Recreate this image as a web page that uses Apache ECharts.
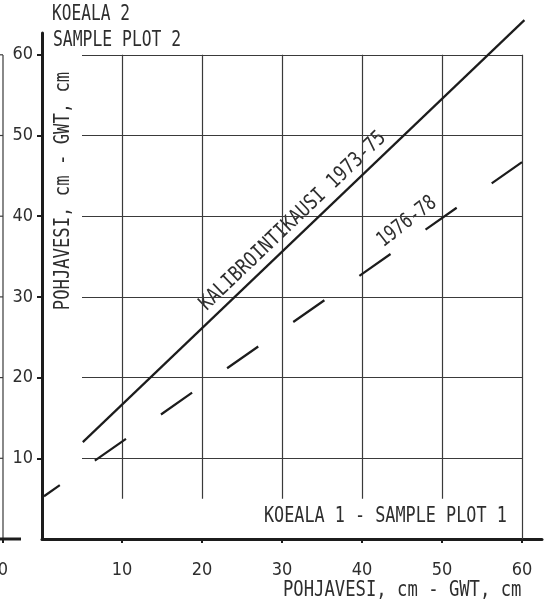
<!DOCTYPE html>
<html><head><meta charset="utf-8">
<script src="https://cdn.jsdelivr.net/npm/echarts@6/dist/echarts.min.js"></script>
<style>html,body{margin:0;padding:0;background:#fff}#c{width:548px;height:615px}</style>
</head><body><div id="c"></div>
<script>
// ---- data ----
const xTicks = [10, 20, 30, 40, 50, 60];
const yTicks = [10, 20, 30, 40, 50, 60];
const gridStart = 5;
const calibX = [5.1, 60.3];      // KALIBROINTIKAUSI 1973-75
const calibY = [12.0, 64.3];
const laterX = [0.25, 60.0];     // 1976-78
const laterY = [5.3, 46.7];
const xTitle = 'POHJAVESI, cm - GWT, cm';
const yTitle = 'POHJAVESI, cm - GWT, cm';
const calibLabel = 'KALIBROINTIKAUSI 1973-75';
const laterLabel = '1976-78';

const chart = echarts.init(document.getElementById('c'), null, {renderer: 'canvas'});
const ink = '#1c1c1c';
const txt = '#2e2e2e';
const mono = '"DejaVu Sans Mono", monospace';
const numFont = '"DejaVu Sans Condensed", "DejaVu Sans", sans-serif';

const gridSegs = [];
yTicks.forEach(t => gridSegs.push({coords: [[gridStart, t], [60, t]]}));
xTicks.forEach(t => gridSegs.push({coords: [[t, t === 60 ? 0 : gridStart], [t, 60]]}));

function T(text, x, y, rot, sx, align) {
  return {
    type: 'text', x: x, y: y, rotation: (rot || 0) * Math.PI / 180, scaleX: sx,
    style: {text: text, font: '21px ' + mono, fill: txt, align: align || 'center', verticalAlign: 'middle'}
  };
}

chart.setOption({
  animation: false,
  backgroundColor: '#fff',
  grid: {left: 42, right: 6, top: 33, bottom: 76},
  xAxis: {
    type: 'value', min: 0, max: 62.5,
    axisLine: {lineStyle: {color: ink, width: 3}},
    axisTick: {show: true, customValues: xTicks, length: 4, lineStyle: {color: ink, width: 2}},
    axisLabel: {customValues: xTicks, margin: 22, fontFamily: numFont, fontSize: 18, color: txt},
    splitLine: {show: false}
  },
  yAxis: {
    type: 'value', min: 0, max: 62.7,
    axisLine: {lineStyle: {color: ink, width: 3}},
    axisTick: {show: true, customValues: yTicks, length: 5, lineStyle: {color: ink, width: 2}},
    axisLabel: {customValues: yTicks, margin: 9, fontFamily: numFont, fontSize: 18, color: txt},
    splitLine: {show: false}
  },
  series: [
    {type: 'lines', coordinateSystem: 'cartesian2d', silent: true, z: 1,
     lineStyle: {color: '#3a3a3a', width: 1.2, opacity: 1}, data: gridSegs},
    {type: 'line', name: calibLabel, z: 3, symbol: 'none', clip: false,
     lineStyle: {color: ink, width: 2.2},
     data: calibX.map((x, i) => [x, calibY[i]])},
    {type: 'line', name: laterLabel, z: 3, symbol: 'none', clip: false,
     lineStyle: {color: ink, width: 2.2, type: [38, 42.7], dashOffset: 18.7},
     data: laterX.map((x, i) => [x, laterY[i]])}
  ],
  graphic: [
    T('KOEALA 2', 52, 15, 0, 0.77, 'left'),
    T('SAMPLE PLOT 2', 53, 41, 0, 0.78, 'left'),
    T('KOEALA 1 - SAMPLE PLOT 1', 264, 517, 0, 0.80, 'left'),
    T(xTitle, 283, 591, 0, 0.82, 'left'),
    T(yTitle, 64, 191, 90, 0.82),
    T(calibLabel, 293, 221, 43.7, 0.82),
    T(laterLabel, 407, 222, 38, 0.78),
    // fragment of neighbouring panel at the left edge
    {type: 'line', shape: {x1: 3, y1: 55, x2: 3, y2: 539}, style: {stroke: '#3a3a3a', lineWidth: 1.2}},
    {type: 'line', shape: {x1: 0, y1: 539, x2: 21, y2: 539}, style: {stroke: ink, lineWidth: 3}},
    {type: 'line', shape: {x1: 3, y1: 539, x2: 3, y2: 543}, style: {stroke: ink, lineWidth: 2}},
    {type: 'text', x: 8, y: 570, style: {text: '60', font: '18px ' + numFont, fill: txt, align: 'right', verticalAlign: 'middle'}}
  ].concat(yTicks.map(t => ({type: 'line', shape: {x1: 0, y1: 539 - t * 8.07, x2: 3, y2: 539 - t * 8.07}, style: {stroke: '#3a3a3a', lineWidth: 1.2}})))
});
</script></body></html>
